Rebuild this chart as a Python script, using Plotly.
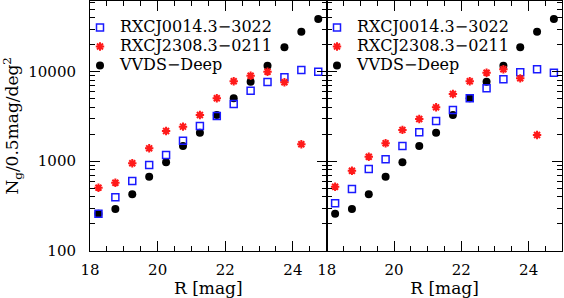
import plotly.graph_objects as go

# Magnitude bins (bin centres, 0.5 mag bins)
r_bins = [18.25, 18.75, 19.25, 19.75, 20.25, 20.75, 21.25, 21.75,
          22.25, 22.75, 23.25, 23.75, 24.25, 24.75]

# VVDS-Deep reference counts (same in both panels)
vvds = [258, 292, 427, 671, 973, 1479, 2080, 3280,
        5046, 7730, 11660, 18750, 28000, 38800]

# Left panel
left_rxcj0014 = [258, 395, 601, 907, 1172, 1694, 2472, 3200,
                 4355, 6137, 7670, 8650, 10450, 10000]
left_rxcj2308 = [506, 575, 948, 1393, 2175, 2433, 3281, 5046,
                 7816, 9020, 10000, 7620, 1545]

# Right panel
right_rxcj0014 = [339, 489, 818, 1050, 1479, 2104, 2813, 3730,
                  5046, 6530, 8225, 9840, 10640, 9750]
right_rxcj2308 = [519, 783, 1122, 1585, 2236, 2965, 4000, 5640,
                  7816, 9750, 10640, 8430, 1963]

names = ["RXCJ0014.3\u22123022", "RXCJ2308.3\u22120211", "VVDS\u2212Deep"]
x_title = "R [mag]"
y_title = "N<sub>g</sub>/0.5mag/deg<sup>2</sup>"

FONT = "DejaVu Serif"
BLUE = "#1a1aff"
RED = "#ff1a1a"

fig = go.Figure()

def add_panel(xa, ya, blue, red, legend):
    fig.add_trace(go.Scatter(
        x=r_bins, y=vvds, mode="markers", xaxis=xa, yaxis=ya,
        name="<span style='font-size:16px'>" + names[2] + "</span>",
        legend=legend, legendrank=3,
        marker=dict(symbol="circle", size=8, color="black")))
    fig.add_trace(go.Scatter(
        x=r_bins[:len(blue)], y=blue, mode="markers", xaxis=xa, yaxis=ya,
        name="<span style='font-size:16px'>" + names[0] + "</span>",
        legend=legend, legendrank=1,
        marker=dict(symbol="square-open", size=7, color=BLUE,
                    line=dict(width=1.5, color=BLUE))))
    fig.add_trace(go.Scatter(
        x=r_bins[:len(red)], y=red, mode="markers", xaxis=xa, yaxis=ya,
        name="<span style='font-size:16px'>" + names[1] + "</span>",
        legend=legend, legendrank=2,
        marker=dict(symbol="asterisk-open", size=7, color=RED,
                    line=dict(width=2, color=RED))))

add_panel("x", "y", left_rxcj0014, left_rxcj2308, "legend")
add_panel("x2", "y2", right_rxcj0014, right_rxcj2308, "legend2")

W, H = 564, 298
xl0, xl1, xr1 = 90 / W, 326.7 / W, 562.3 / W
yb, yt = (H - 250.7) / H, (H - 1) / H

xcommon = dict(range=[18, 25], dtick=2, tick0=18, ticks="inside", ticklen=10,
               tickwidth=1, tickcolor="black", showline=True, linecolor="black",
               linewidth=1, mirror="allticks", showgrid=False, zeroline=False,
               automargin=False,
               tickfont=dict(family=FONT, size=15, color="black"),
               minor=dict(dtick=0.5, tick0=18, ticks="inside", ticklen=5,
                          tickwidth=1, tickcolor="black", showgrid=False),
               title=dict(text=x_title, font=dict(family=FONT, size=17, color="black"),
                          standoff=5),
               ticklabelstandoff=5)

ycommon = dict(type="log", range=[2, 4.79], dtick=1, tickformat="d",
               ticks="inside", ticklen=10, tickwidth=1, tickcolor="black",
               showline=True, linecolor="black", linewidth=1, mirror="allticks",
               showgrid=False, zeroline=False, automargin=False,
               tickfont=dict(family=FONT, size=15, color="black"),
               minor=dict(dtick="D1", ticks="inside", ticklen=5, tickwidth=1,
                          tickcolor="black", showgrid=False))

fig.update_layout(
    width=W, height=H,
    margin=dict(l=0, r=0, t=0, b=0),
    plot_bgcolor="white", paper_bgcolor="white",
    font=dict(family=FONT, color="black"),
    xaxis=dict(domain=[xl0, xl1], anchor="y", **xcommon),
    xaxis2=dict(domain=[xl1, xr1], anchor="y2", **xcommon),
    yaxis=dict(domain=[yb, yt], anchor="x", ticklabelstandoff=10,
               title=dict(text=y_title, font=dict(family=FONT, size=17, color="black")),
               **ycommon),
    yaxis2=dict(domain=[yb, yt], anchor="x2", matches="y", showticklabels=False,
                **ycommon),
    legend=dict(x=(85 - 5) / W, y=(H - 13) / H, xanchor="left", yanchor="top",
                bgcolor="rgba(0,0,0,0)", borderwidth=0, tracegroupgap=0,
                font=dict(family=FONT, size=12, color="black")),
    legend2=dict(x=(322 - 5) / W, y=(H - 13) / H, xanchor="left", yanchor="top",
                 bgcolor="rgba(0,0,0,0)", borderwidth=0, tracegroupgap=0,
                 font=dict(family=FONT, size=12, color="black")),
)

fig.write_html(
    "out.html",
    config={"displayModeBar": False},
    post_script="document.body.style.margin='0';document.body.style.padding='0';"
                "document.body.style.overflow='hidden';",
)
